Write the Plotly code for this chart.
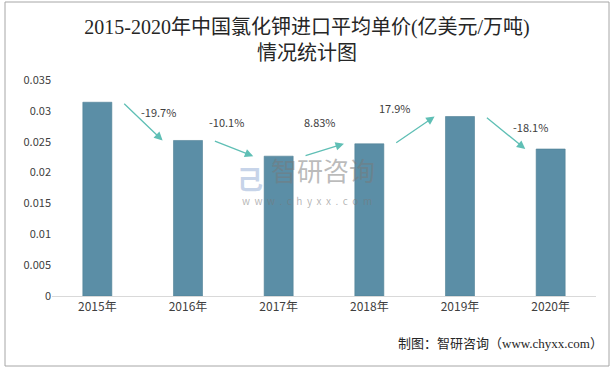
import plotly.graph_objects as go

years = ["2015年", "2016年", "2017年", "2018年", "2019年", "2020年"]
prices = [0.0314, 0.0252, 0.02266, 0.02466, 0.02908, 0.02382]
growth_labels = ["-19.7%", "-10.1%", "8.83%", "17.9%", "-18.1%"]
y_ticks = [0, 0.005, 0.01, 0.015, 0.02, 0.025, 0.03, 0.035]
y_tick_text = ["0", "0.005", "0.01", "0.015", "0.02", "0.025", "0.03", "0.035"]

BAR = "#5b8ea6"
ARROW = "#5fbfb5"
TXT = "#404040"
FONT = "Noto Sans CJK SC"
SERIF = "Liberation Serif, " + FONT

W, H = 614, 369
ML, MR, MT, MB = 52, 18, 80, 73
PW, PH = W - ML - MR, H - MT - MB


def px(x):
    return (x - ML) / PW


def py(y):
    return (H - MB - y) / PH


fig = go.Figure()
fig.add_trace(go.Bar(
    x=list(range(len(years))), y=prices,
    marker=dict(color=BAR, line=dict(color="#4f7f96", width=0.6)),
    width=0.32, hoverinfo="skip",
))

# label offsets (style only)
label_pos = [(0.67, 0.0298), (1.42, 0.0282), (2.46, 0.0282), (3.28, 0.0305), (4.78, 0.0274)]

ann = []
for i, lab in enumerate(growth_labels):
    ann.append(dict(
        x=i + 0.72, y=prices[i + 1], ax=i + 0.28, ay=prices[i],
        xref="x", yref="y", axref="x", ayref="y",
        showarrow=True, arrowhead=2, arrowsize=1.3, arrowwidth=1.3,
        arrowcolor=ARROW, text="",
    ))
    lx, ly = label_pos[i]
    ann.append(dict(x=lx, y=ly, xref="x", yref="y", text=lab, showarrow=False,
                    font=dict(family=FONT, size=11, color=TXT)))

# watermark
ann.append(dict(x=px(323), y=py(189), xref="paper", yref="paper", text="智研咨询",
                showarrow=False, yanchor="bottom", borderpad=0,
                font=dict(family=FONT, size=26, color="rgba(120,120,120,0.5)")))
ann.append(dict(x=px(307), y=py(192), xref="paper", yref="paper",
                text="&nbsp;&nbsp;".join("www.chyxx.com"),
                showarrow=False, yanchor="top", borderpad=0,
                font=dict(family=FONT, size=10, color="rgba(120,120,120,0.55)")))
ann.append(dict(x=px(250), y=py(177), xref="paper", yref="paper", text="<b>己</b>",
                showarrow=False,
                font=dict(family=FONT, size=26, color="rgba(150,175,215,0.55)")))

# source
ann.append(dict(x=px(605), y=py(343), xref="paper", yref="paper",
                text="制图：智研咨询（www.chyxx.com）",
                showarrow=False, xanchor="right", yanchor="middle",
                font=dict(family=SERIF, size=13, color="#262626")))

border = []
for (x0, y0, x1, y1) in [(5, 2, 609, 2), (5, 366, 609, 366), (5, 2, 5, 366), (609, 2, 609, 366)]:
    border.append(dict(type="line", xref="paper", yref="paper",
                       x0=px(x0), y0=py(y0), x1=px(x1), y1=py(y1),
                       line=dict(color="#a6a6a6", width=1)))

fig.update_layout(
    width=W, height=H,
    margin=dict(l=ML, r=MR, t=MT, b=MB),
    paper_bgcolor="white", plot_bgcolor="white",
    showlegend=False,
    bargap=0.68,
    title=dict(text="2015-2020年中国氯化钾进口平均单价(亿美元/万吨)<br>情况统计图",
               x=0.5, xanchor="center", y=1 - 34 / H, yanchor="middle",
               font=dict(family=SERIF, size=20, color="#262626")),
    xaxis=dict(tickmode="array", tickvals=list(range(len(years))), ticktext=years,
               range=[-0.5, len(years) - 0.5], showgrid=False, zeroline=False,
               showline=True, linecolor="#d9d9d9", linewidth=1, ticks="",
               tickfont=dict(family=FONT, size=12, color=TXT)),
    yaxis=dict(range=[0, 0.035], tickvals=y_ticks, ticktext=y_tick_text,
               showgrid=False, zeroline=False, showline=False, ticks="",
               tickfont=dict(family=FONT, size=11, color=TXT)),
    annotations=ann,
    shapes=border,
)

fig.write_html("out.html", config={"displayModeBar": False},
               post_script="document.body.style.margin='0';")
